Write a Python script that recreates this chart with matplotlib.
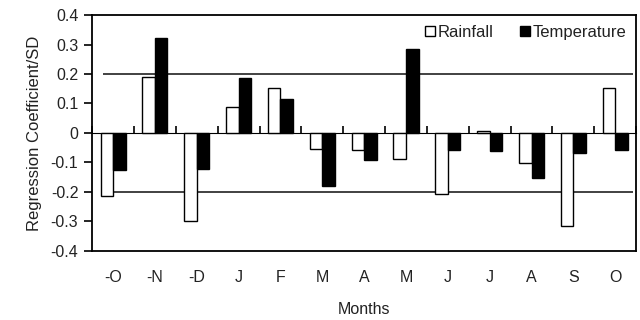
import matplotlib
matplotlib.use("Agg")
import matplotlib.pyplot as plt
import numpy as np

plt.rcParams['font.family'] = ['Liberation Sans', 'DejaVu Sans']

months = ["-O", "-N", "-D", "J", "F", "M", "A", "M", "J", "J", "A", "S", "O"]
rainfall = [-0.214, 0.191, -0.300, 0.088, 0.154, -0.053, -0.058, -0.087, -0.208, 0.005, -0.101, -0.315, 0.154]
temperature = [-0.127, 0.322, -0.123, 0.187, 0.116, -0.180, -0.092, 0.286, -0.057, -0.061, -0.153, -0.067, -0.057]
threshold = 0.2
yticks = [0.4, 0.3, 0.2, 0.1, 0, -0.1, -0.2, -0.3, -0.4]
ytick_labels = ["0.4", "0.3", "0.2", "0.1", "0", "-0.1", "-0.2", "-0.3", "-0.4"]

fig = plt.figure(figsize=(6.4, 3.2), dpi=100)
ax = fig.add_axes([0.144, 0.216, 0.850, 0.737])

x = np.arange(len(months))
w = 0.3
ax.bar(x - w/2, rainfall, w, color='white', edgecolor='black', linewidth=1.0, label='Rainfall', zorder=3)
ax.bar(x + w/2, temperature, w, color='black', edgecolor='black', linewidth=1.0, label='Temperature', zorder=3)

ax.hlines([threshold, -threshold], -0.25, len(months) - 0.57, color='#333333', linewidth=1.3, zorder=2)

ax.set_xlim(-0.5, len(months) - 0.5)
ax.set_ylim(-0.4, 0.4)
ax.set_yticks(yticks)
ax.set_yticklabels(ytick_labels, fontsize=11.5, color='#222222')
ax.set_xticks(x)
ax.set_xticklabels(months, fontsize=11.5, color='#222222')
ax.tick_params(axis='x', length=0, pad=14)
ax.tick_params(axis='y', direction='out', length=6, width=1.2, pad=4)

for s in ax.spines.values():
    s.set_linewidth(1.3)
    s.set_color('black')

# category axis through zero with boundary ticks
sec = ax.secondary_xaxis(0.5)
sec.set_xticks(np.arange(len(months) + 1) - 0.5)
sec.set_xticklabels([])
sec.tick_params(direction='out', length=5, width=1.2)
sec.spines['bottom'].set_linewidth(1.3)

ax.set_xlabel("Months", fontsize=11.5, labelpad=12, color='#222222')
ax.set_ylabel("Regression Coefficient/SD", fontsize=12, labelpad=6, color='#222222')

leg = ax.legend(loc='upper right', frameon=False, ncol=2, fontsize=12,
                handlelength=0.6, handleheight=0.6, handletextpad=0.15,
                columnspacing=1.6, borderaxespad=0.2)
for t in leg.get_texts():
    t.set_color('#222222')

fig.savefig("out.png", dpi=100)
